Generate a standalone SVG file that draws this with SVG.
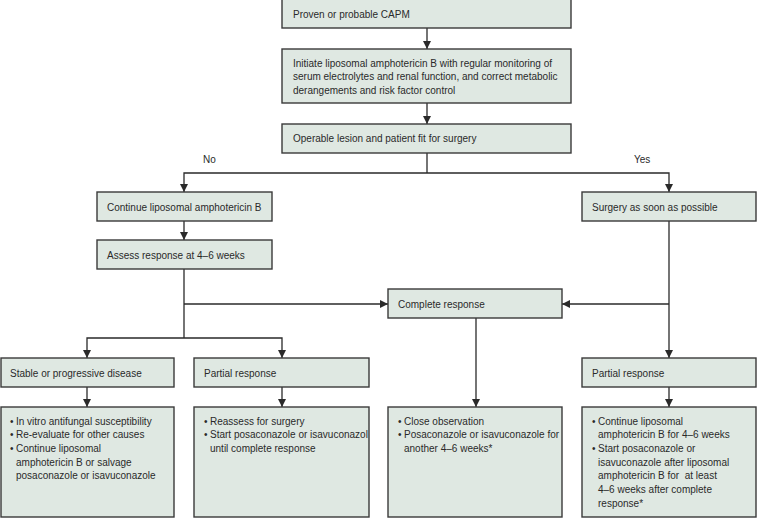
<svg xmlns="http://www.w3.org/2000/svg" width="757" height="518" viewBox="0 0 757 518">
<defs>
<style>
.box{fill:#dfe8e2;stroke:#3a3a3a;stroke-width:1.4}
.t{font-family:"Liberation Sans","Open Sans",Arial,sans-serif;font-size:10px;fill:#2a2a2a}
.c{fill:none;stroke:#2a2a2a;stroke-width:1.3}
.lbl{font-family:"Liberation Sans","Open Sans",Arial,sans-serif;font-size:10px;fill:#2a2a2a}
</style>
<marker id="ah" viewBox="0 0 8 8" refX="8" refY="4" markerWidth="8" markerHeight="8" markerUnits="userSpaceOnUse" orient="auto">
<path d="M0,0 L8,4 L0,8 z" fill="#2a2a2a"/>
</marker>
</defs>
<rect width="757" height="518" fill="#ffffff"/>

<g id="connectors">
<path class="c" d="M427,28 V49" marker-end="url(#ah)"/>
<path class="c" d="M427,103 V124" marker-end="url(#ah)"/>
<path class="c" d="M427,153 V173"/>
<path class="c" d="M427,173 H184 V192" marker-end="url(#ah)"/>
<path class="c" d="M427,173 H669 V192" marker-end="url(#ah)"/>
<path class="c" d="M184,221 V240" marker-end="url(#ah)"/>
<path class="c" d="M184,269 V338"/>
<path class="c" d="M184,304 H388" marker-end="url(#ah)"/>
<path class="c" d="M184,338 H87 V358" marker-end="url(#ah)"/>
<path class="c" d="M184,338 H282 V358" marker-end="url(#ah)"/>
<path class="c" d="M669,221 V358" marker-end="url(#ah)"/>
<path class="c" d="M669,304 H562" marker-end="url(#ah)"/>
<path class="c" d="M87,387 V407" marker-end="url(#ah)"/>
<path class="c" d="M282,387 V407" marker-end="url(#ah)"/>
<path class="c" d="M476,318 V407" marker-end="url(#ah)"/>
<path class="c" d="M669,387 V407" marker-end="url(#ah)"/>
<text class="lbl" x="203" y="163">No</text>
<text class="lbl" x="634" y="163">Yes</text>
</g>

<g id="n1">
<rect class="box" x="282" y="-1" width="289" height="29"/>
<text class="t" x="293" y="17.5">Proven or probable CAPM</text>
</g>
<g id="n2">
<rect class="box" x="282" y="49" width="289" height="54"/>
<text class="t" x="293" y="66.5">Initiate liposomal amphotericin B with regular monitoring of</text>
<text class="t" x="293" y="80">serum electrolytes and renal function, and correct metabolic</text>
<text class="t" x="293" y="93.5">derangements and risk factor control</text>
</g>
<g id="n3">
<rect class="box" x="282" y="124" width="289" height="29"/>
<text class="t" x="293" y="141.5">Operable lesion and patient fit for surgery</text>
</g>
<g id="n4">
<rect class="box" x="97" y="192" width="175" height="29"/>
<text class="t" x="107" y="210.5">Continue liposomal amphotericin B</text>
</g>
<g id="n5">
<rect class="box" x="97" y="240" width="175" height="29"/>
<text class="t" x="107" y="258.5">Assess response at 4–6 weeks</text>
</g>
<g id="n6">
<rect class="box" x="582" y="192" width="174" height="29"/>
<text class="t" x="592" y="210.5">Surgery as soon as possible</text>
</g>
<g id="n7">
<rect class="box" x="388" y="289" width="174" height="29"/>
<text class="t" x="398" y="307.5">Complete response</text>
</g>
<g id="n8">
<rect class="box" x="1" y="358" width="173" height="29"/>
<text class="t" x="10" y="376.5">Stable or progressive disease</text>
</g>
<g id="n9">
<rect class="box" x="194" y="358" width="175" height="29"/>
<text class="t" x="204" y="376.5">Partial response</text>
</g>
<g id="n10">
<rect class="box" x="582" y="358" width="174" height="29"/>
<text class="t" x="592" y="376.5">Partial response</text>
</g>
<g id="n11">
<rect class="box" x="1" y="407" width="173" height="110"/>
<text class="t" x="10" y="424.5">•</text><text class="t" x="16" y="424.5">In vitro antifungal susceptibility</text>
<text class="t" x="10" y="438.2">•</text><text class="t" x="16" y="438.2">Re-evaluate for other causes</text>
<text class="t" x="10" y="451.9">•</text><text class="t" x="16" y="451.9">Continue liposomal</text>
<text class="t" x="16" y="465.6">amphotericin B or salvage</text>
<text class="t" x="16" y="479.3">posaconazole or isavuconazole</text>
</g>
<g id="n12">
<rect class="box" x="194" y="407" width="175" height="110"/>
<text class="t" x="204" y="424.5">•</text><text class="t" x="210" y="424.5">Reassess for surgery</text>
<text class="t" x="204" y="438.2">•</text><text class="t" x="210" y="438.2">Start posaconazole or isavuconazol</text>
<text class="t" x="210" y="451.9">until complete response</text>
</g>
<g id="n13">
<rect class="box" x="388" y="407" width="174" height="110"/>
<text class="t" x="398" y="424.5">•</text><text class="t" x="404" y="424.5">Close observation</text>
<text class="t" x="398" y="438.2">•</text><text class="t" x="404" y="438.2">Posaconazole or isavuconazole for</text>
<text class="t" x="404" y="451.9">another 4–6 weeks*</text>
</g>
<g id="n14">
<rect class="box" x="582" y="407" width="174" height="110"/>
<text class="t" x="592" y="424.5">•</text><text class="t" x="598" y="424.5">Continue liposomal</text>
<text class="t" x="598" y="438.2">amphotericin B for 4–6 weeks</text>
<text class="t" x="592" y="451.9">•</text><text class="t" x="598" y="451.9">Start posaconazole or</text>
<text class="t" x="598" y="465.6">isavuconazole after liposomal</text>
<text class="t" x="598" y="479.3" style="white-space:pre">amphotericin B for  at least</text>
<text class="t" x="598" y="493">4–6 weeks after complete</text>
<text class="t" x="598" y="506.7">response*</text>
</g>
</svg>
